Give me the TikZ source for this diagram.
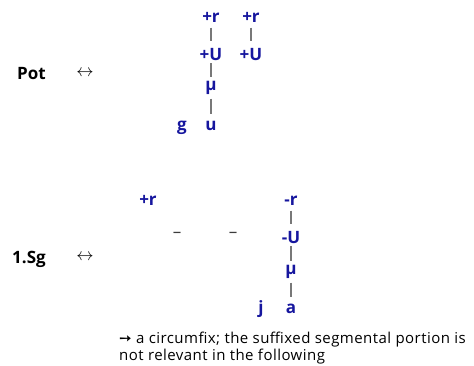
\documentclass[tikz,border=0pt]{standalone}
\usepackage{fontspec}
\setmainfont{Open Sans}
\newfontfamily\symfont{DejaVu Sans}
\newfontfamily\notefont[LetterSpace=3]{Open Sans}
\definecolor{segblue}{RGB}{22,22,158}
\definecolor{assoc}{RGB}{120,120,120}
\definecolor{dashgray}{RGB}{60,60,60}
\begin{document}
\begin{tikzpicture}[x=1pt,y=-1pt,
  seg/.style={inner sep=0pt,text height=13pt,text depth=0pt,anchor=base,
    text=segblue,font=\fontsize{17}{20}\selectfont\bfseries},
  lbl/.style={inner sep=0pt,anchor=base west,font=\fontsize{17}{20}\selectfont\bfseries},
  arr/.style={inner sep=0pt,font=\fontsize{18}{20}\selectfont},
  gap/.style={inner sep=0pt,anchor=base,text=dashgray,font=\fontsize{17}{18}\selectfont},
  note/.style={inner sep=0pt,anchor=base west,align=left,font=\notefont\fontsize{15}{13}\selectfont},
  link/.style={draw=assoc,line width=1.1pt},
  rU/.style={link,shorten <=5.5pt,shorten >=6pt},
  Um/.style={link,shorten <=3pt,shorten >=0pt},
  mx/.style={link,shorten <=8.5pt,shorten >=3pt}]
\useasboundingbox (0,0) rectangle (474,365);
% --- Pot ---
\node[lbl] (pot) at (17,79) {Pot};
\node[arr] (eq1) at (85,73) {$\leftrightarrow$};
\node[seg] (r1) at (211,22) {+r};
\node[seg] (U1) at (211,60) {+U};
\node[seg] (m1) at (211,90) {μ};
\node[seg] (u1) at (211,130) {u};
\node[seg] (g1) at (182,130) {g};
\node[seg] (r2) at (251,22) {+r};
\node[seg] (U2) at (251,60) {+U};
\draw[rU] (r1.south) -- (U1.north);
\draw[Um] (U1.south) -- (m1.north);
\draw[mx] (m1.south) -- (u1.north);
\draw[rU] (r2.south) -- (U2.north);
% --- 1.Sg ---
\node[lbl] (sg) at (12,263) {1.Sg};
\node[arr] (eq2) at (85,257) {$\leftrightarrow$};
\node[seg] (r3) at (148,205) {+r};
\node[gap] (d1) at (177,237) {–};
\node[gap] (d2) at (233,237) {–};
\node[seg] (r4) at (291,205) {-r};
\node[seg] (U4) at (291,243) {-U};
\node[seg] (m4) at (291,274) {μ};
\node[seg] (a4) at (291,313) {a};
\node[seg] (j4) at (261,313) {j};
\draw[rU] (r4.south) -- (U4.north);
\draw[Um] (U4.south) -- (m4.north);
\draw[mx] (m4.south) -- (a4.north);
% --- note ---
\node[note] (n1) at (119,360) {{\symfont ➙} a circumfix; the suffixed segmental portion is\\not relevant in the following};
\end{tikzpicture}
\end{document}
